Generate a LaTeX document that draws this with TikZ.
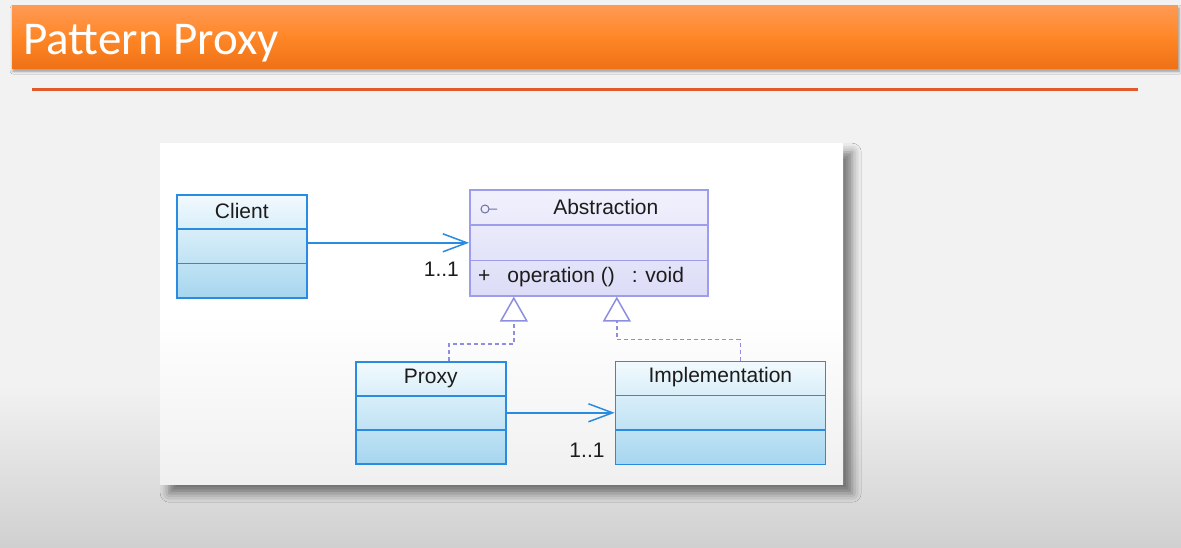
\documentclass[tikz,border=0pt]{standalone}
\usepackage{fontspec}
\setmainfont{Liberation Sans}
\newfontfamily\titlefont{Carlito}
\usetikzlibrary{positioning,arrows.meta,calc,shadows.blur}

\definecolor{slidebg}{HTML}{F2F2F2}
\definecolor{slidebot}{HTML}{D0D0D0}
\definecolor{bartop}{HTML}{FF9A55}
\definecolor{barmid}{HTML}{FF8727}
\definecolor{barbot}{HTML}{EF7216}
\definecolor{rulered}{HTML}{E05A2C}
\definecolor{clsblue}{HTML}{2A8CE0}
\definecolor{clstop}{HTML}{F2FAFE}
\definecolor{clsbot}{HTML}{A6D6EF}
\definecolor{abspurple}{HTML}{9D9DEB}
\definecolor{abstop}{HTML}{F1F1FD}
\definecolor{absbot}{HTML}{DCDCF7}
\definecolor{realcol}{HTML}{8E8EE0}
\definecolor{inktext}{HTML}{1C1C1C}

\begin{document}
\begin{tikzpicture}[
  x=1pt, y=-1pt,
  font=\fontsize{21}{25}\selectfont, text=inktext,
  rows/.style={path picture={
    \draw[#1, line width=1.6pt]
      ($(path picture bounding box.north west)!0.333!(path picture bounding box.south west)$) -- ($(path picture bounding box.north east)!0.333!(path picture bounding box.south east)$)
      ($(path picture bounding box.north west)!0.667!(path picture bounding box.south west)$) -- ($(path picture bounding box.north east)!0.667!(path picture bounding box.south east)$);}},
  cls/.style={draw=clsblue, line width=1.6pt, top color=clstop, bottom color=clsbot, minimum height=103pt, inner sep=0pt, anchor=north west, rows=clsblue},
  abscls/.style={cls, draw=abspurple, top color=abstop, bottom color=absbot, rows=abspurple},
  titlebar/.style={top color=bartop, bottom color=barbot, middle color=barmid, anchor=north west, inner sep=0pt, blur shadow={shadow xshift=1pt, shadow yshift=-3pt, shadow blur radius=3pt}},
  panel/.style={top color=white, bottom color=black!6, middle color=white, anchor=north west, inner sep=0pt, blur shadow={shadow xshift=9pt, shadow yshift=-9pt, shadow blur radius=9pt, shadow opacity=50}},
  assoc/.style={draw=clsblue, line width=1.5pt, -{Straight Barb[length=24pt, width=18pt]}},
  realize/.style={draw=realcol, line width=1.5pt, dash pattern=on 4pt off 3pt, -{Triangle[length=25pt, width=28pt, fill=white]}},
  mult/.style={anchor=east}
]
\useasboundingbox (0,0) rectangle (1181,547);
\fill[slidebg] (0,0) rectangle (1181,547);
\fill[top color=slidebg, bottom color=slidebot] (0,385) rectangle (1181,547);

\node[titlebar, minimum width=1166pt, minimum height=63pt] (bar) at (12,5) {};
\node[anchor=base west, text=white, font=\titlefont\fontsize{47}{50}\selectfont] (title) at (20,54) {Pattern Proxy};
\draw[rulered, line width=3pt] (32,89) -- (1138,89);

\node[panel, minimum width=683pt, minimum height=341pt] (panel) at (160,143) {};

% classes
\node[cls, minimum width=130pt] (client) at (176,194) {};
\node (clientname) at ([yshift=-17pt]client.north) {Client};
\node[abscls, minimum width=238pt, minimum height=106pt] (abs) at (469,189) {};
\node (absname) at ([xshift=17pt, yshift=-18pt]abs.north) {Abstraction};
\node[anchor=west, inner sep=0pt] (absop) at ([xshift=9pt, yshift=-88pt]abs.north west)
  {+\hspace{17pt}operation ()\hspace{17pt}: void};
\draw[draw=abspurple!70!black, line width=1pt] ([xshift=16pt, yshift=-20pt]abs.north west) circle[radius=4pt] ++(4,0) -- ++(8,0);
\node[cls, minimum width=150pt, minimum height=102pt] (proxy) at (355,361) {};
\node (proxyname) at ([yshift=-17pt]proxy.north) {Proxy};
\node[cls, minimum width=210pt, right=108pt of proxy] (impl) {};
\node (implname) at ([yshift=-17pt]impl.north) {Implementation};

% connectors
\draw[assoc] (abs.west -| client.east) -- node[pos=1, mult, xshift=-6pt, yshift=-26pt] (absmult) {1..1} (abs.west);
\draw[assoc] (impl.west -| proxy.east) -- node[pos=1, mult, xshift=-6pt, yshift=-37pt] (implmult) {1..1} (impl.west);
\draw[realize] ([xshift=18pt]proxy.north) -- ++(0,-17) -| ([xshift=-75pt]abs.south);
\draw[realize] ([xshift=20pt]impl.north) -- ++(0,-21) -| ([xshift=28pt]abs.south);
\end{tikzpicture}
\end{document}
